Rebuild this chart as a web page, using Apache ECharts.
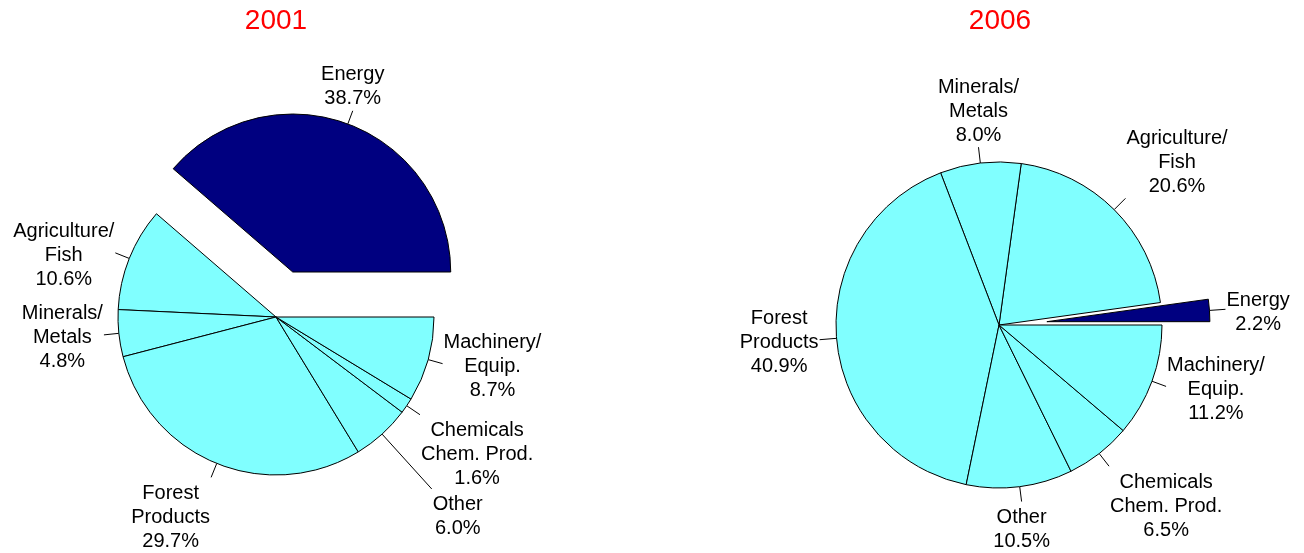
<!DOCTYPE html>
<html>
<head>
<meta charset="utf-8">
<script src="https://cdn.jsdelivr.net/npm/echarts@6/dist/echarts.min.js"></script>
<style>
html,body{margin:0;padding:0;background:#ffffff;}
#chart{width:1304px;height:553px;}
</style>
</head>
<body>
<div id="chart"></div>
<script>
// ---- data ----
const categories = ['Energy', 'Agriculture/\nFish', 'Minerals/\nMetals', 'Forest\nProducts', 'Other', 'Chemicals\nChem. Prod.', 'Machinery/\nEquip.'];
const years = ['2001', '2006'];
const values2001 = [38.7, 10.6, 4.8, 29.7, 6.0, 1.6, 8.7];
const values2006 = [2.2, 20.6, 8.0, 40.9, 10.5, 6.5, 11.2];
const explodedIndex = 0; // Energy slice is pulled out

// ---- styles ----
const FONT = 'Liberation Sans, Arial, sans-serif';
const NAVY = '#000080';
const CYAN = '#80FFFF';
const NONE = 'rgba(0,0,0,0)';
const EXPLODE = 48;

function labelFormatter(p) {
  const lines = p.name.split('\n');
  lines.push(p.value.toFixed(1) + '%');
  return lines.map(function (l) { return '{t|' + l + '}'; }).join('\n');
}

function ramp(d, t, r) {
  return Math.sign(d) * Math.min(1, Math.max(0, (Math.abs(d) - t) / r));
}

// label placement: leader line along the radius, label box anchored at its end
function makeLayout(leaderLen) {
  return function (p) {
    const pts = p.labelLinePoints;
    if (!pts || pts.length < 2 || !p.labelRect) return {};
    const p0 = pts[0], p1 = pts[1];
    let dx = p1[0] - p0[0], dy = p1[1] - p0[1];
    const len = Math.hypot(dx, dy) || 1;
    dx /= len; dy /= len;
    const L = leaderLen[p.dataIndex] || 15;
    const ex = p0[0] + dx * L, ey = p0[1] + dy * L;
    const w = p.labelRect.width, h = p.labelRect.height;
    const sy = ramp(dy, 0.4, 0.1);
    return {
      x: ex + ramp(dx, 0.36, 0.01) * (w / 2 + 1),
      y: ey + sy * (h / 2 + 1) + (sy < 0 ? 1 : 3),
      align: 'center',
      verticalAlign: 'middle',
      labelLinePoints: [[p0[0], p0[1]], [ex, ey], [ex, ey]]
    };
  };
}

// visible: which items this series draws
function buildData(values, visible) {
  return categories.map(function (name, i) {
    const show = visible(i);
    return {
      name: name,
      value: values[i],
      itemStyle: show
        ? { color: i === explodedIndex ? NAVY : CYAN, borderColor: '#000000', borderWidth: 1 }
        : { color: NONE, borderColor: NONE, borderWidth: 0 },
      label: { show: show },
      labelLine: { show: show }
    };
  });
}

function pieSeries(values, center, radius, leaderLen, visible) {
  return {
    type: 'pie',
    center: center,
    radius: radius,
    startAngle: 0,
    clockwise: false,
    avoidLabelOverlap: false,
    silent: true,
    animation: false,
    label: {
      show: true,
      position: 'outside',
      color: '#000000',
      fontFamily: FONT,
      fontSize: 20,
      lineHeight: 24,
      formatter: labelFormatter,
      rich: {
        t: { align: 'center', color: '#000000', fontFamily: FONT, fontSize: 20, lineHeight: 24 }
      }
    },
    labelLine: { show: true, length: 15, length2: 0, lineStyle: { color: '#000000', width: 1 } },
    labelLayout: makeLayout(leaderLen),
    data: buildData(values, visible)
  };
}

// an exploded pie = main body + the pulled-out slice drawn with a shifted centre
function explodedPie(values, center, radius, leaderLen) {
  const sum = values.reduce(function (a, b) { return a + b; }, 0);
  let before = 0;
  for (let i = 0; i < explodedIndex; i++) before += values[i];
  const mid = (before + values[explodedIndex] / 2) / sum * 2 * Math.PI; // counter-clockwise from 3 o'clock
  const shifted = [center[0] + EXPLODE * Math.cos(mid), center[1] - EXPLODE * Math.sin(mid)];
  return [
    pieSeries(values, center, radius, leaderLen, function (i) { return i !== explodedIndex; }),
    pieSeries(values, shifted, radius, leaderLen, function (i) { return i === explodedIndex; })
  ];
}

const titleStyle = { color: '#FF0000', fontSize: 28, fontWeight: 'normal', fontFamily: FONT };

const chart = echarts.init(document.getElementById('chart'), null, { renderer: 'canvas' });
chart.setOption({
  backgroundColor: '#ffffff',
  animation: false,
  title: [
    { text: years[0], left: 276, top: 7, padding: 0, textAlign: 'center', textStyle: titleStyle },
    { text: years[1], left: 1000, top: 7, padding: 0, textAlign: 'center', textStyle: titleStyle }
  ],
  series: [].concat(
    explodedPie(values2001, [276, 317], 158, [14, 15, 15, 15, 74, 16, 15]),
    explodedPie(values2006, [999, 325], 163, [16, 16, 16, 17, 15, 16, 15])
  )
});
</script>
</body>
</html>
